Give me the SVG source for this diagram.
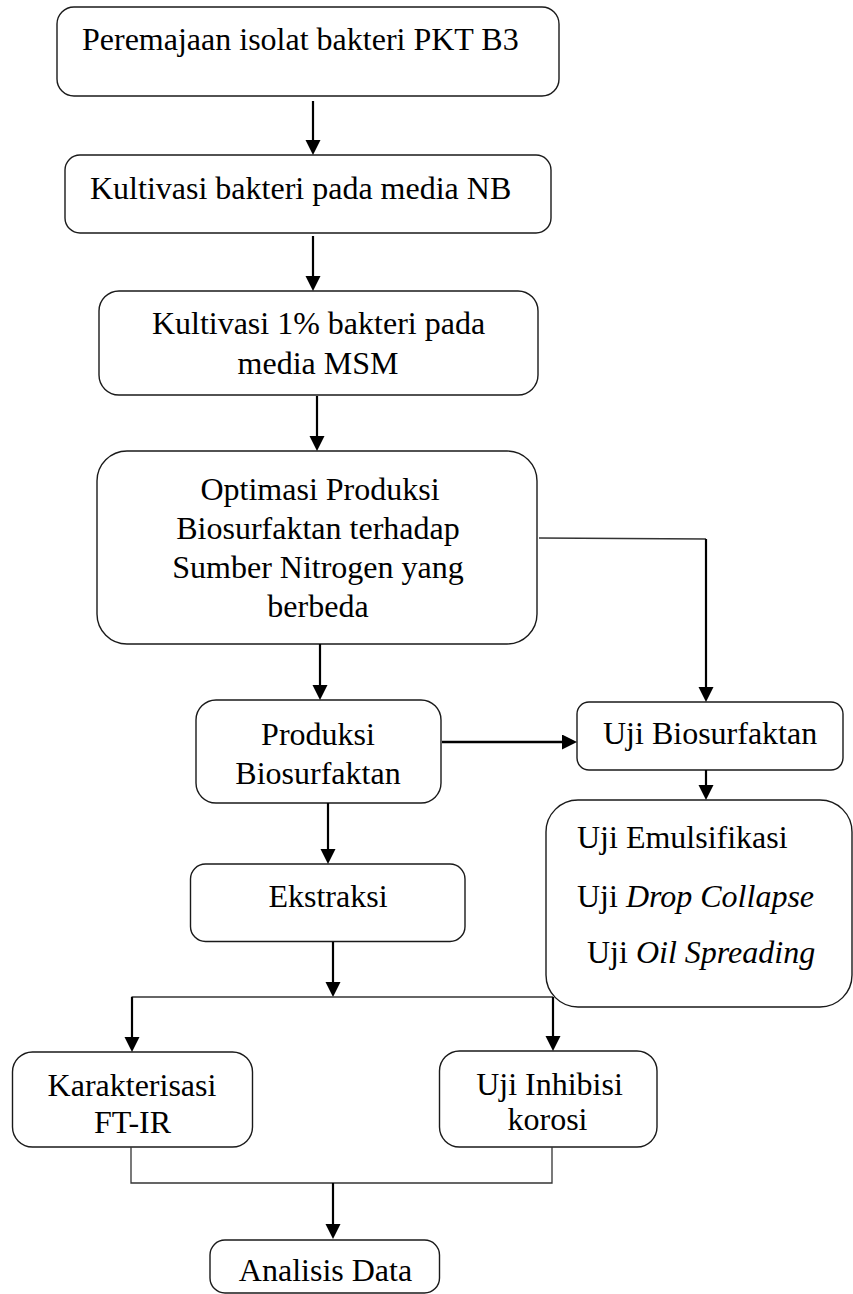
<svg xmlns="http://www.w3.org/2000/svg" width="853" height="1294" viewBox="0 0 853 1294">
<style>
.box{fill:#fff;stroke:#1a1a1a;stroke-width:1.4}
.t{font-family:"Liberation Serif","Times New Roman",serif;font-size:32px;fill:#000}
.m{text-anchor:middle}
.arr{fill:none;stroke:#000;stroke-width:2.2;marker-end:url(#ah)}
.thin{fill:none;stroke:#333;stroke-width:1.3}
</style>
<defs>
<marker id="ah" markerUnits="userSpaceOnUse" markerWidth="16" markerHeight="16" refX="5" refY="7.5" orient="auto">
<path d="M0,0 L15,7.5 L0,15 z" fill="#000"/>
</marker>
</defs>
<rect width="853" height="1294" fill="#fff"/>
<g id="n1"><rect class="box" x="57" y="7" width="502" height="89" rx="17"/><text class="t" x="82" y="50">Peremajaan isolat bakteri PKT B3</text></g>
<g id="n2"><rect class="box" x="65" y="155" width="486" height="78" rx="15"/><text class="t" x="90" y="199">Kultivasi bakteri pada media NB</text></g>
<g id="n3"><rect class="box" x="99" y="291" width="439" height="104" rx="20"/><text class="t m" x="318.5" y="334">Kultivasi 1% bakteri pada</text><text class="t m" x="318" y="374">media MSM</text></g>
<g id="n4"><rect class="box" x="97" y="451" width="440" height="193" rx="30"/><text class="t m" x="320" y="500">Optimasi Produksi</text><text class="t m" x="318" y="539">Biosurfaktan terhadap</text><text class="t m" x="318" y="578">Sumber Nitrogen yang</text><text class="t m" x="318" y="617">berbeda</text></g>
<g id="n5"><rect class="box" x="196" y="700" width="245" height="103" rx="20"/><text class="t m" x="318" y="745">Produksi</text><text class="t m" x="318" y="784">Biosurfaktan</text></g>
<g id="n6"><rect class="box" x="577" y="702" width="266" height="68" rx="12"/><text class="t" x="603" y="744">Uji Biosurfaktan</text></g>
<g id="n7"><rect class="box" x="546" y="800" width="306" height="207" rx="32"/><text class="t" x="577" y="848">Uji Emulsifikasi</text><text class="t" x="577" y="907">Uji <tspan font-style="italic">Drop Collapse</tspan></text><text class="t" x="587" y="963">Uji <tspan font-style="italic">Oil Spreading</tspan></text></g>
<g id="n8"><rect class="box" x="190.5" y="864" width="274.5" height="77.5" rx="15"/><text class="t m" x="328" y="907">Ekstraksi</text></g>
<g id="n9"><rect class="box" x="12.5" y="1052" width="240" height="95" rx="20"/><text class="t m" x="132" y="1096">Karakterisasi</text><text class="t m" x="132.5" y="1133">FT-IR</text></g>
<g id="n10"><rect class="box" x="439.5" y="1051" width="217.5" height="96" rx="20"/><text class="t m" x="549.5" y="1095">Uji Inhibisi</text><text class="t m" x="547.5" y="1130">korosi</text></g>
<g id="n11"><rect class="box" x="210" y="1240" width="229.5" height="53" rx="15"/><text class="t m" x="325.5" y="1281">Analisis Data</text></g>
<g id="connectors">
<line class="arr" x1="313" y1="101" x2="313" y2="145"/>
<line class="arr" x1="313" y1="236" x2="313" y2="281"/>
<line class="arr" x1="317" y1="396" x2="317" y2="441"/>
<line class="arr" x1="320" y1="644" x2="320" y2="690"/>
<polyline class="thin" points="539,538 706,539"/>
<line class="arr" x1="706" y1="539" x2="706" y2="692"/>
<line class="arr" x1="442" y1="742" x2="567" y2="742" style="stroke-width:2.6"/>
<line class="arr" x1="706" y1="770" x2="706" y2="790"/>
<line class="arr" x1="328" y1="803" x2="328" y2="854"/>
<line class="arr" x1="333" y1="942" x2="333" y2="987"/>
<line class="thin" x1="131.5" y1="997" x2="553" y2="997"/>
<line class="arr" x1="132" y1="997" x2="132" y2="1042"/>
<line class="arr" x1="553" y1="997" x2="553" y2="1041"/>
<polyline class="thin" points="131,1147 131,1183 552,1183 552,1147"/>
<line class="arr" x1="333" y1="1183" x2="333" y2="1229"/>
</g>
</svg>
